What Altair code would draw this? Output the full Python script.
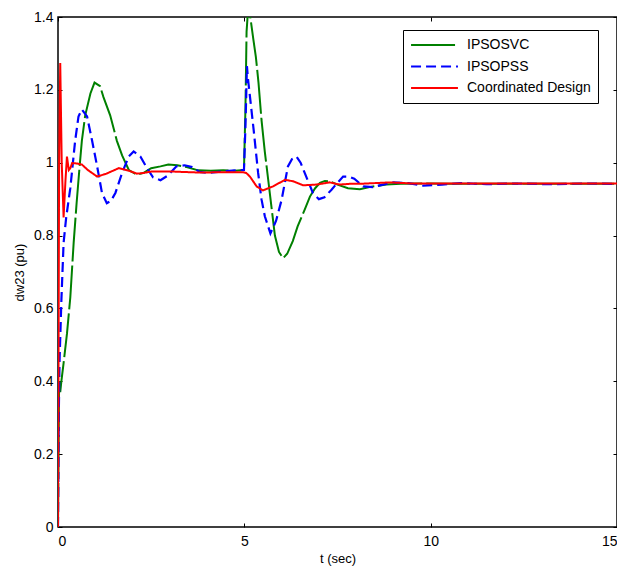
import altair as alt
import pandas as pd

# ---- data ----
series_names = ["IPSOSVC", "IPSOPSS", "Coordinated Design"]

t_svc = [0, 0.03, 0.06, 0.09, 0.15, 0.24, 0.33, 0.42, 0.5, 0.58, 0.64, 0.73, 0.87, 0.98, 1.13,
         1.22, 1.4, 1.58, 1.72, 1.9, 2.12, 2.3, 2.5, 2.75, 2.96, 3.2, 3.45, 3.76, 4.1, 4.43,
         4.75, 4.99, 5.03, 5.06, 5.1, 5.13, 5.16, 5.24, 5.31, 5.38, 5.46, 5.55, 5.65, 5.82, 5.93,
         6.04, 6.15, 6.3, 6.43, 6.62, 6.76, 6.9, 7.03, 7.16, 7.29, 7.5, 7.78, 8.1, 8.45, 8.81,
         9.2, 9.8, 10.5, 11.5, 12.5, 13.5, 15]
v_svc = [0, 0.40, 0.37, 0.40, 0.45, 0.53, 0.63, 0.78, 0.89, 0.99, 1.06, 1.13, 1.19, 1.22, 1.21,
         1.18, 1.13, 1.06, 1.02, 0.98, 0.967, 0.972, 0.985, 0.99, 0.995, 0.993, 0.988, 0.979, 0.978, 0.979,
         0.978, 0.98, 1.15, 1.36, 1.42, 1.43, 1.40, 1.34, 1.29, 1.22, 1.118, 1.03, 0.945, 0.80, 0.755,
         0.738, 0.75, 0.785, 0.825, 0.871, 0.907, 0.93, 0.945, 0.95, 0.949, 0.94, 0.93, 0.927, 0.935, 0.94,
         0.942, 0.943, 0.942, 0.942, 0.942, 0.942, 0.942]

t_pss = [0, 0.02, 0.04, 0.09, 0.15, 0.22, 0.33, 0.46, 0.55, 0.64, 0.78, 0.91, 1.05, 1.18, 1.31,
         1.42, 1.54, 1.72, 1.9, 2.03, 2.21, 2.39, 2.55, 2.75, 2.95, 3.18, 3.4, 3.6, 3.8, 4.0,
         4.42, 4.88, 4.99, 5.03, 5.07, 5.1, 5.19, 5.25, 5.37, 5.46, 5.55, 5.7, 5.85, 6.0, 6.17,
         6.28, 6.4, 6.51, 6.62, 6.84, 7.0, 7.15, 7.34, 7.5, 7.65, 7.8, 7.95, 8.19, 8.45, 8.72,
         8.99, 9.4, 9.8, 10.3, 10.8, 11.5, 12.3, 13.2, 14.1, 15]
v_pss = [0, 0.3, 0.45, 0.62, 0.78, 0.85, 0.93, 1.06, 1.127, 1.146, 1.127, 1.063, 0.99, 0.917, 0.889,
         0.895, 0.917, 0.972, 1.017, 1.031, 1.017, 0.985, 0.96, 0.952, 0.965, 0.99, 0.993, 0.988, 0.975, 0.972,
         0.976, 0.98, 0.98, 1.1, 1.265, 1.228, 1.146, 1.09, 0.972, 0.9, 0.853, 0.806, 0.84, 0.898, 0.99,
         1.01, 1.017, 1.0, 0.972, 0.917, 0.9, 0.905, 0.926, 0.945, 0.962, 0.962, 0.956, 0.935, 0.933, 0.94,
         0.946, 0.944, 0.937, 0.94, 0.944, 0.941, 0.943, 0.941, 0.943, 0.942]

t_cd = [0, 0.03, 0.06, 0.1, 0.15, 0.2, 0.24, 0.29, 0.33, 0.38, 0.5, 0.64, 0.8, 1.05, 1.3,
        1.63, 1.9, 2.12, 2.3, 2.52, 3.0, 3.8, 4.5, 4.97, 5.05, 5.15, 5.33, 5.5, 5.77, 6.09,
        6.31, 6.58, 6.94, 7.29, 7.56, 7.83, 8.1, 8.9, 9.5, 10.5, 12, 13.5, 15]
v_cd = [0, 1.0, 1.274, 1.0, 0.85, 0.95, 1.017, 0.98, 0.985, 0.999, 0.998, 0.995, 0.98, 0.962, 0.97,
        0.985, 0.978, 0.97, 0.972, 0.976, 0.976, 0.973, 0.974, 0.974, 0.972, 0.962, 0.935, 0.924, 0.935, 0.953,
        0.949, 0.938, 0.94, 0.946, 0.94, 0.942, 0.942, 0.946, 0.943, 0.943, 0.943, 0.943, 0.943]

x_ticks = [0, 5, 10, 15]
y_ticks = [0, 0.2, 0.4, 0.6, 0.8, 1.0, 1.2, 1.4]

colors = ["#008000", "#0000ff", "#ff0000"]
dashes = [[44, 4], [10, 5], [1, 0]]

rows = []
for name, ts, vs in zip(series_names, [t_svc, t_pss, t_cd], [v_svc, v_pss, v_cd]):
    for i, (t, v) in enumerate(zip(ts, vs)):
        rows.append({"series": name, "t": t, "v": v, "i": i})
df = pd.DataFrame(rows)

FONT = "Liberation Sans"
xs = alt.Scale(domain=[0, 15], nice=False, zero=False)
ys = alt.Scale(domain=[0, 1.4], nice=False, zero=False)

legend = alt.Legend(orient="none", legendX=345, legendY=13, strokeColor="black",
                    fillColor="white", padding=7, labelFontSize=14, labelFont=FONT,
                    labelColor="black", symbolType="stroke", symbolStrokeWidth=2,
                    symbolSize=2200, clipHeight=16, rowPadding=5.5, labelLimit=300,
                    labelOffset=8)


def line_layer(name, width):
    return alt.Chart(df).transform_filter(alt.datum.series == name).mark_line(
        clip=True, strokeWidth=width
    ).encode(
        x=alt.X("t:Q", scale=xs,
                axis=alt.Axis(values=x_ticks, title="t (sec)", offset=-4, tickSize=4,
                              labelPadding=7, titlePadding=4, domain=False, grid=False)),
        y=alt.Y("v:Q", scale=ys,
                axis=alt.Axis(values=y_ticks, format="~g", title="dw23 (pu)", offset=-4,
                              tickSize=4, labelPadding=5, titlePadding=7, domain=False,
                              grid=False)),
        color=alt.Color("series:N", title=None,
                        scale=alt.Scale(domain=series_names, range=colors), legend=legend),
        strokeDash=alt.StrokeDash("series:N", title=None,
                                  scale=alt.Scale(domain=series_names, range=dashes),
                                  legend=legend),
        order="i:Q",
    )


lines = alt.layer(line_layer("IPSOSVC", 2), line_layer("IPSOPSS", 2.2),
                  line_layer("Coordinated Design", 2))

ticks = alt.Chart(df).mark_line(opacity=0).encode(
    x=alt.X("t:Q", scale=xs,
            axis=alt.Axis(orient="top", values=x_ticks, labels=False, title=None, offset=-4,
                          tickSize=4, domain=False, grid=False)),
    y=alt.Y("v:Q", scale=ys,
            axis=alt.Axis(orient="right", values=y_ticks, labels=False, title=None, offset=-4,
                          tickSize=4, domain=False, grid=False)),
    detail="series:N",
)

chart = alt.layer(lines, ticks).resolve_scale(x="independent", y="independent").properties(
    width=559, height=510,
    padding={"left": 50, "top": 9, "right": 0, "bottom": 44},
    autosize=alt.AutoSizeParams(type="none"),
    background="white",
).configure_view(stroke="black", strokeWidth=1.5).configure_axis(
    labelFont=FONT, labelFontSize=14, labelColor="black",
    titleFont=FONT, titleFontSize=13, titleFontWeight="normal", titleColor="black",
    tickColor="black", tickWidth=1,
)

chart.save("out.html", embed_options={"renderer": "svg", "actions": False})
